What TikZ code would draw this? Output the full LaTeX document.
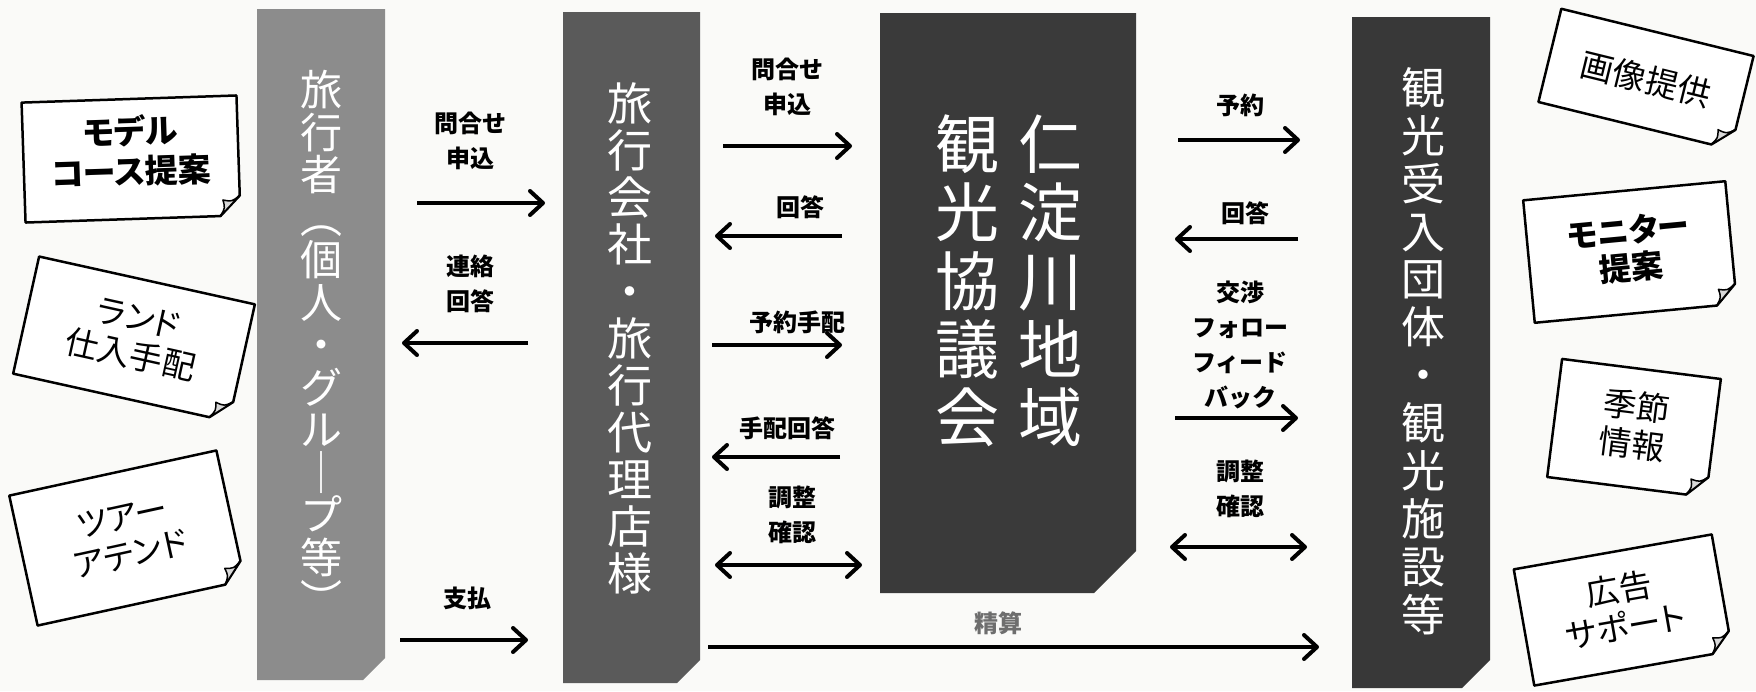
\documentclass[tikz,border=0pt]{standalone}
\usepackage{fontspec}
\usetikzlibrary{arrows.meta}
\newfontfamily\jp{Noto Sans CJK JP}
\newfontfamily\jpp[RawFeature=+palt]{Noto Sans CJK JP}
\definecolor{bgc}{HTML}{FAFAF8}
\definecolor{travc}{HTML}{8C8C8C}
\definecolor{agenc}{HTML}{5A5A5A}
\definecolor{counc}{HTML}{3A3A3A}
\definecolor{recvc}{HTML}{383838}
\definecolor{curlc}{HTML}{D8D8D8}
\definecolor{settlec}{HTML}{6E6E6E}
\tikzset{
  lbl/.style={font=\jp\bfseries\fontsize{24}{35}\selectfont, align=center, inner sep=0pt},
  arr/.style={line width=4pt, -{Straight Barb[length=13pt,width=24pt,line width=4pt,round]}},
  darr/.style={line width=4pt, {Straight Barb[length=13pt,width=24pt,line width=4pt,round]}-{Straight Barb[length=13pt,width=24pt,line width=4pt,round]}},
  vtext/.style={text=white, align=center, inner sep=0pt},
  notebox/.style={draw=black, line width=2.5pt, fill=white, line join=round},
  curlbox/.style={draw=black, line width=1.5pt, fill=curlc, line join=round},
  notetext/.style={font=\jpp\fontsize{33}{38}\selectfont, align=center, inner sep=0pt, transform shape},
}
% #1 name, #2 cx, #3 cy, #4 w, #5 h, #6 angle, #7 text, #8 extra text options, #9 text y offset
\newcommand\stickynote[9]{%
  \begin{scope}[shift={(#2,#3)}, rotate=#6]
    \draw[notebox] (-#4/2,-#5/2) -- (#4/2,-#5/2) -- (#4/2,#5/2-20) -- (#4/2-20,#5/2) -- (-#4/2,#5/2) -- cycle;
    \draw[curlbox] (#4/2,#5/2-20) .. controls (#4/2-8,#5/2-14) .. (#4/2-17,#5/2-16) .. controls (#4/2-15,#5/2-8) .. (#4/2-20,#5/2) -- cycle;
    \node[notetext, #8] (#1) at (0,#9) {#7};
  \end{scope}}
\begin{document}
\begin{tikzpicture}[x=1pt,y=-1pt]
\useasboundingbox (0,0) rectangle (1756,691);
\fill[bgc] (0,0) rectangle (1756,691);

% columns
\fill[travc] (257,9) -- (385,9) -- (385,658) -- (363,680) -- (257,680) -- cycle;
\fill[agenc] (563,12) -- (700,12) -- (700,660) -- (677,683) -- (563,683) -- cycle;
\fill[counc] (880,13) -- (1136,13) -- (1136,551) -- (1094,593) -- (880,593) -- cycle;
\fill[recvc] (1352,17) -- (1490,17) -- (1490,660) -- (1462,688) -- (1352,688) -- cycle;

\node[vtext, font=\jp\fontsize{42}{42.5}\selectfont] (trav) at (321,343)
  {旅\\行\\者\\︵\\個\\人\\・\\グ\\ル\\｜\\プ\\等\\︶};
\node[vtext, font=\jp\fontsize{45}{47}\selectfont] (agency) at (630,338)
  {旅\\行\\会\\社\\・\\旅\\行\\代\\理\\店\\様};
\node[vtext, font=\jp\fontsize{64}{68.3}\selectfont] (council1) at (1050,281)
  {仁\\淀\\川\\地\\域};
\node[vtext, font=\jp\fontsize{64}{68.3}\selectfont] (council2) at (967,281)
  {観\\光\\協\\議\\会};
\node[vtext, font=\jp\fontsize{44}{47.9}\selectfont] (recv) at (1423,351)
  {観\\光\\受\\入\\団\\体\\・\\観\\光\\施\\設\\等};

% sticky notes left
\stickynote{nL1}{131}{159}{215}{120}{1.9}{モデル\\コース提案}{font=\jpp\bfseries\fontsize{33}{40}\selectfont}{-8}
\stickynote{nL2}{134}{339}{221}{120}{-12.5}{ランド\\仕入手配}{}{-2}
\stickynote{nL3}{127}{538}{212}{133}{12.3}{ツアー\\アテンド}{}{-2}
% sticky notes right
\stickynote{nR1}{1646}{79}{198}{96}{-13.8}{画像提供}{}{0}
\stickynote{nR2}{1630}{252}{203}{123}{5.4}{モニター\\提案}{font=\jpp\bfseries\fontsize{32}{37}\selectfont}{-3}
\stickynote{nR3}{1634}{428}{160}{119}{-7.2}{季節\\情報}{}{-3}
\stickynote{nR4}{1623}{610}{201}{118}{10}{広告\\サポート}{}{-3}

% travellers <-> agency
\node[lbl] (l1) at (470,141) {問合せ\\申込};
\coordinate (a1s) at (417,203); \coordinate (a1e) at (545,203);
\draw[arr] (a1s) -- (a1e);
\node[lbl] (l2) at (470,284) {連絡\\回答};
\coordinate (a2s) at (528,343); \coordinate (a2e) at (402,343);
\draw[arr] (a2s) -- (a2e);
\node[lbl] (l3) at (467,598) {支払};
\coordinate (a3s) at (400,640); \coordinate (a3e) at (528,640);
\draw[arr] (a3s) -- (a3e);

% agency <-> council
\node[lbl] (m1) at (787,87) {問合せ\\申込};
\coordinate (b1s) at (723,146); \coordinate (b1e) at (852,146);
\draw[arr] (b1s) -- (b1e);
\node[lbl] (m2) at (800,207) {回答};
\coordinate (b2s) at (842,236); \coordinate (b2e) at (715,236);
\draw[arr] (b2s) -- (b2e);
\node[lbl] (m3) at (797,322) {予約手配};
\coordinate (b3s) at (712,345); \coordinate (b3e) at (842,345);
\draw[arr] (b3s) -- (b3e);
\node[lbl] (m4) at (787,428) {手配回答};
\coordinate (b4s) at (840,457); \coordinate (b4e) at (712,457);
\draw[arr] (b4s) -- (b4e);
\node[lbl] (m5) at (792,515) {調整\\確認};
\coordinate (b5s) at (715,565); \coordinate (b5e) at (862,565);
\draw[darr] (b5s) -- (b5e);

% settlement
\node[lbl, text=settlec] (s1) at (998,623) {精算};
\coordinate (c1s) at (708,647); \coordinate (c1e) at (1319,647);
\draw[arr] (c1s) -- (c1e);

% council <-> receiving
\node[lbl] (r1) at (1240,105) {予約};
\coordinate (d1s) at (1178,140); \coordinate (d1e) at (1300,140);
\draw[arr] (d1s) -- (d1e);
\node[lbl] (r2) at (1245,213) {回答};
\coordinate (d2s) at (1298,239); \coordinate (d2e) at (1175,239);
\draw[arr] (d2s) -- (d2e);
\node[lbl] (r3) at (1240,345) {交渉\\フォロー\\フィード\\バック};
\coordinate (d3s) at (1175,418); \coordinate (d3e) at (1298,418);
\draw[arr] (d3s) -- (d3e);
\node[lbl] (r4) at (1240,489) {調整\\確認};
\coordinate (d4s) at (1170,547); \coordinate (d4e) at (1307,547);
\draw[darr] (d4s) -- (d4e);
\end{tikzpicture}
\end{document}
